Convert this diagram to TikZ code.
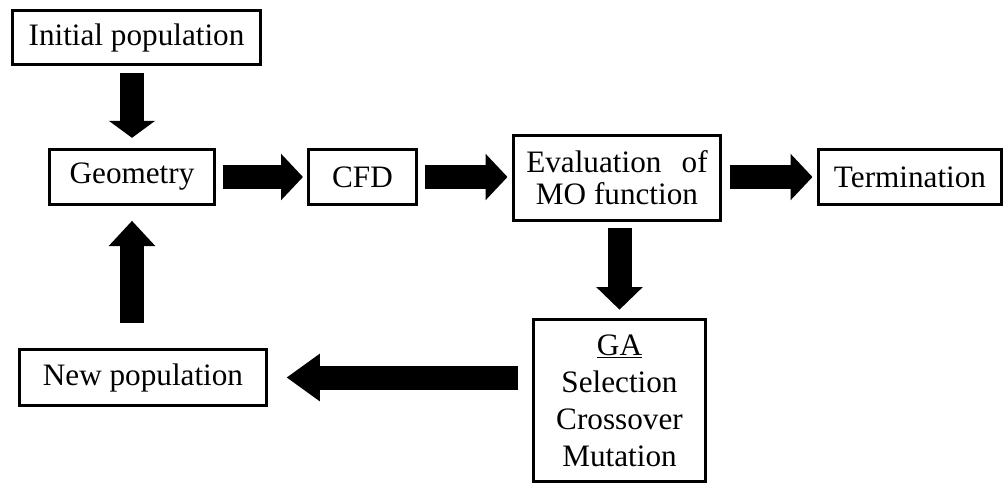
\documentclass[tikz,border=0pt]{standalone}
\usepackage{fontspec}
\setmainfont{Liberation Serif}
\usetikzlibrary{arrows.meta}
\tikzset{
  stage/.style={draw,line width=2.25pt,inner sep=0pt,align=center,
    font=\fontsize{23.4pt}{27.75pt}\selectfont},
  flow/.style={line width=18pt,-{Triangle[length=#1,width=34pt]}},
  flow/.default=16.5pt
}
\begin{document}
\begin{tikzpicture}[x=0.75pt,y=-0.75pt]
\useasboundingbox (0,0) rectangle (1006,485);
% boxes
\node[stage,minimum width=186pt,minimum height=41pt] (init) at (136.5,37.5) {Initial population};
\node[stage,minimum width=124pt,minimum height=41.5pt] (geo) at (132,177) {Geometry};
\node[stage,minimum width=81pt,minimum height=41pt] (cfd) at (362.5,177) {CFD};
\node[stage,minimum width=155pt,minimum height=64pt,
  font=\fontsize{23.4pt}{24pt}\selectfont] (eval) at (617,178) {Evaluation\hspace{0.65em}of\\MO function};
\node[stage,minimum width=137pt,minimum height=41pt] (term) at (910,177) {Termination};
\node[stage,minimum width=129pt,minimum height=122pt] (ga) at (619.5,400.5) {\underline{GA}\\Selection\\Crossover\\Mutation};
\node[stage,minimum width=185pt,minimum height=41.5pt] (newpop) at (143,377.5) {New population};
% arrows
\draw[flow=12.75pt,shorten <=5pt,shorten >=7.5pt] (init.south -| geo) -- (geo.north);
\draw[flow,shorten <=5pt,shorten >=3pt] (geo.east) -- (cfd.west);
\draw[flow,shorten <=5pt,shorten >=3.5pt] (cfd.east) -- (eval.west |- cfd);
\draw[flow,shorten <=6pt,shorten >=3.5pt] (eval.east |- term) -- (term.west);
\draw[flow=17pt,shorten <=4pt,shorten >=6pt] (eval.south -| ga.north) -- (ga.north);
\draw[flow=25pt,shorten <=10.5pt,shorten >=14pt] (ga.west |- newpop) -- (newpop.east);
\draw[flow=19pt,shorten <=19pt,shorten >=11pt] (newpop.north -| geo) -- (geo.south);
\end{tikzpicture}
\end{document}
